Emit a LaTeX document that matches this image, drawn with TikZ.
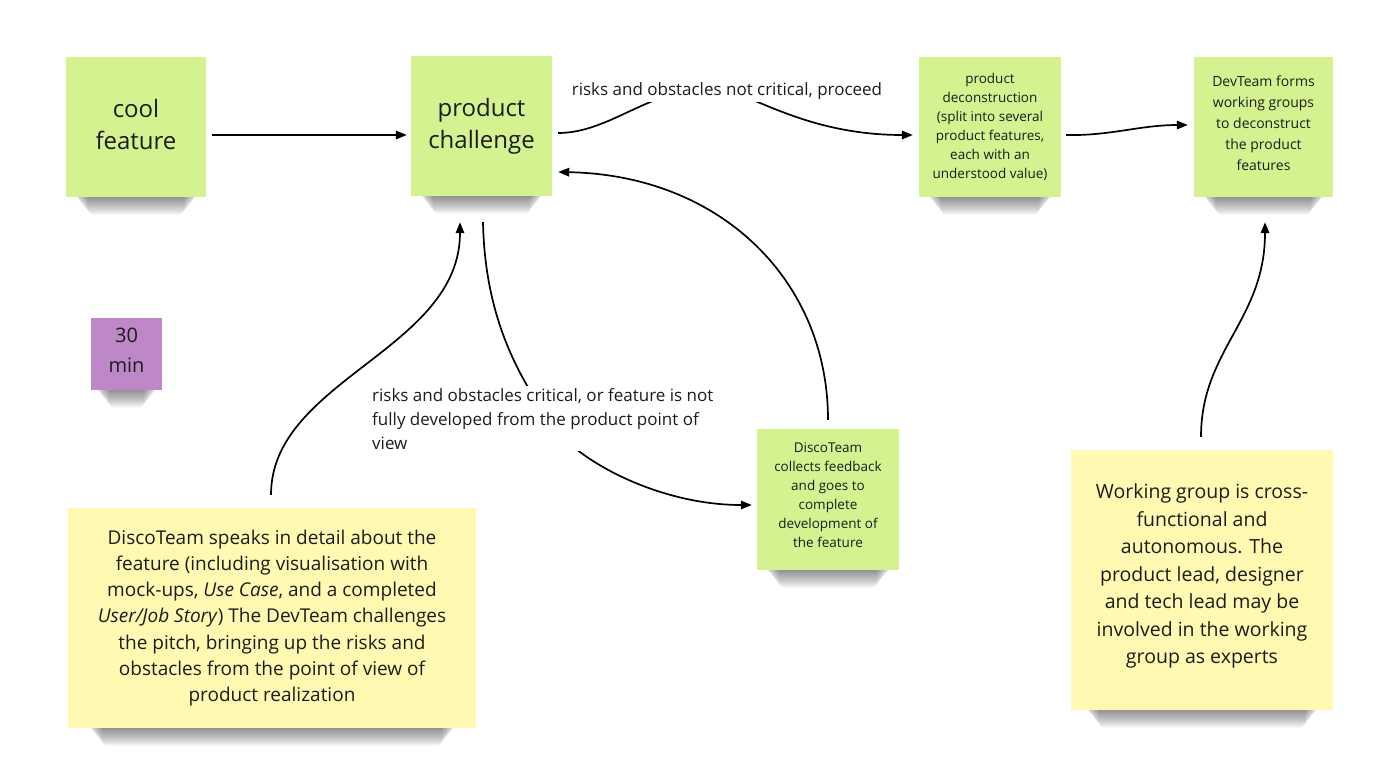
\documentclass[tikz,border=0pt]{standalone}
\usepackage{fontspec}
\setmainfont{Open Sans}
\usetikzlibrary{arrows.meta,calc}
\pgfdeclarelayer{background}
\pgfsetlayers{background,main}
\definecolor{notegreen}{RGB}{213,242,145}
\definecolor{noteyellow}{RGB}{255,249,177}
\definecolor{notepurple}{RGB}{190,136,200}
\definecolor{inkc}{RGB}{28,28,28}
\begin{document}
\begin{tikzpicture}[x=1pt,y=-1pt,
  note/.style={draw=none, align=center, inner sep=0pt, text=inkc},
  gnote/.style={note, fill=notegreen},
  ynote/.style={note, fill=noteyellow},
  pnote/.style={note, fill=notepurple},
  shadowlayer/.style={fill=black, opacity=0.028, rounded corners=6pt},
  conn/.style={-{Triangle[length=11pt,width=8.5pt]}, line width=1.7pt, draw=black},
  lbl/.style={fill=white, inner sep=2pt, text=inkc, font=\fontsize{17}{24}\selectfont, align=left}
]
\useasboundingbox (0,0) rectangle (1400,782);
\begin{pgfonlayer}{background}
\fill[white] (0,0) rectangle (1400,782);
\end{pgfonlayer}

% notes
\node[gnote, minimum width=140pt, minimum height=140pt, text depth=6pt, font=\fontsize{24}{32}\selectfont] (cf) at (136,127) {cool\\feature};
\node[gnote, minimum width=141pt, minimum height=140pt, font=\fontsize{24}{32}\selectfont] (pc) at (481.5,126) {product\\challenge};
\node[gnote, minimum width=142pt, minimum height=140pt, font=\fontsize{13.5}{19}\selectfont] (dec) at (990,127) {product\\deconstruction\\(split into several\\product features,\\each with an\\understood value)};
\node[gnote, minimum width=139pt, minimum height=140pt, text depth=8pt, font=\fontsize{14}{21}\selectfont] (dev) at (1263.5,127) {DevTeam forms\\working groups\\to deconstruct\\the product\\features};
\node[pnote, minimum width=71pt, minimum height=72pt, text depth=8pt, font=\fontsize{20}{30}\selectfont] (tm) at (126.5,354) {30\\min};
\node[gnote, minimum width=142pt, minimum height=141pt, text depth=8pt, font=\fontsize{13.5}{19}\selectfont] (col) at (828,499.5) {DiscoTeam\\collects feedback\\and goes to\\complete\\development of\\the feature};
\node[ynote, minimum width=408pt, minimum height=220pt, font=\fontsize{19}{26.2}\selectfont] (sp) at (272,618) {DiscoTeam speaks in detail about the\\feature (including visualisation with\\mock-ups, \textit{Use Case}, and a completed\\\textit{User/Job Story}) The DevTeam challenges\\the pitch, bringing up the risks and\\obstacles from the point of view of\\product realization};
\node[ynote, minimum width=262pt, minimum height=260pt, text depth=12pt, font=\fontsize{19.5}{27.5}\selectfont] (wg) at (1202,580) {Working group is cross-\\functional and\\autonomous. The\\product lead, designer\\and tech lead may be\\involved in the working\\group as experts};

% soft shadows below the notes
\begin{pgfonlayer}{background}
\foreach \n/\m in {cf/8,pc/8,dec/8,dev/8,tm/4,col/8,sp/20,wg/14} {
  \foreach \k in {1,...,18} {
    \fill[shadowlayer] ($(\n.south west)+(\m+\k*0.8,-20)$) rectangle ($(\n.south east)+(-\m-\k*0.8,\k)$);
  }
}
\end{pgfonlayer}

% connectors
\draw[conn] ($(cf.east)+(6,8)$) -- ($(pc.west)+(-4,9)$);
\draw[conn] ($(pc.east)+(6,7)$) .. controls (610,133) and (650,88) .. (712,88) .. controls (745,88) and (800,135) .. ($(dec.west)+(-6,8)$);
\node[lbl] (l1) at (727,91) {risks and obstacles not critical, proceed};
\draw[conn] ($(dec.east)+(5,8)$) .. controls (1110,136) and (1140,125) .. ($(dev.west)+(-6,-2)$);
\draw[conn] ($(pc.south)+(1.5,26)$) .. controls (485,320) and (520,380) .. (555,428) .. controls (580,462) and (660,505) .. ($(col.west)+(-5,5.5)$);
\node[lbl, anchor=north west] (l2) at (370,386) {risks and obstacles critical, or feature is not\\fully developed from the product point of\\view};
\draw[conn] ($(col.north)+(0,-9)$) .. controls (828,280) and (720,175) .. ($(pc.east)+(6,46)$);
\draw[conn] ($(sp.north)+(-1,-13)$) .. controls (271,380) and (460,350) .. ($(pc.south)+(-21.5,26)$);
\draw[conn] ($(wg.north)+(-1,-13)$) .. controls (1201,350) and (1265,320) .. ($(dev.south)+(1.5,25)$);
\end{tikzpicture}
\end{document}
